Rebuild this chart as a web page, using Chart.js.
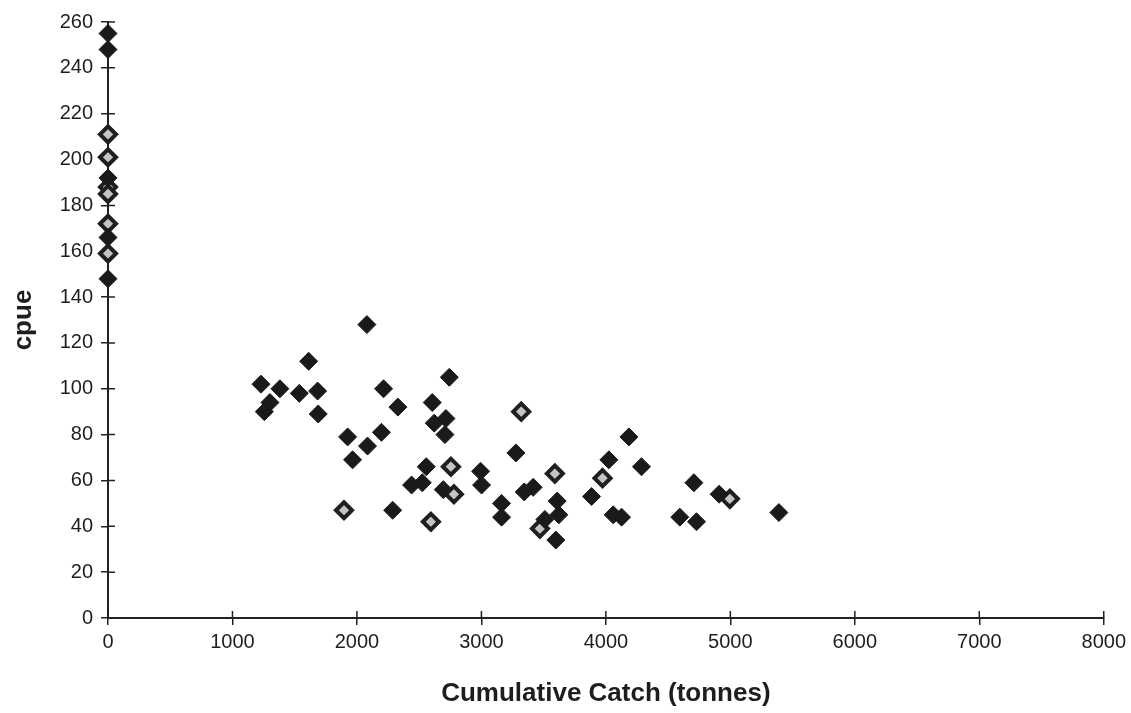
<!DOCTYPE html>
<html>
<head>
<meta charset="utf-8">
<title>cpue vs cumulative catch</title>
<script src="https://cdn.jsdelivr.net/npm/chart.js@4/dist/chart.umd.min.js"></script>
<style>
  body { margin: 0; background: #fff; }
  canvas { display: block; }
</style>
</head>
<body>
<canvas id="cpueChart" width="1131" height="713"></canvas>
<script>
let cpueChart = document.getElementById('cpueChart').getContext('2d');

//Data - cumulative catch (tonnes) and cpue
const solidCatch = [0, 0, 0, 0, 0,
  1229, 1381, 1537, 1612, 1684, 1301, 1256, 1689, 2080, 2214, 2329, 2742, 2605,
  2621, 2715, 2707, 1925, 2085, 2197, 1965, 2557, 2439, 2525, 2694, 2993, 3001,
  3277, 3344, 3416, 3162, 3162, 2287, 4185, 4024, 4286, 3609, 3622, 3510, 3598,
  3885, 4059, 4126, 4707, 4910, 4594, 4728, 5390];
const solidCpue = [255, 248, 192, 166, 148,
  102, 100, 98, 112, 99, 94, 90, 89, 128, 100, 92, 105, 94,
  85, 87, 80, 79, 75, 81, 69, 66, 58, 59, 56, 64, 58,
  72, 55, 57, 50, 44, 47, 79, 69, 66, 51, 45, 43, 34,
  53, 45, 44, 59, 54, 44, 42, 46];

const openCatch = [0, 0, 0, 0, 0, 0, 1896, 2594, 2755, 2779, 3320, 3590, 3973, 3470, 4996];
const openCpue = [211, 201, 188, 185, 172, 159, 47, 42, 66, 54, 90, 63, 61, 39, 52];

//Axis ticks
const xTicks = [0, 1000, 2000, 3000, 4000, 5000, 6000, 7000, 8000];
const yTicks = [0, 20, 40, 60, 80, 100, 120, 140, 160, 180, 200, 220, 240, 260];

const axisColor = '#222';
const textColor = '#1e1e1e';
const fontFamily = "'Liberation Sans', Arial, sans-serif";

function toPoints(xs, ys) {
  return xs.map((x, i) => ({x: x, y: ys[i]}));
}

//Ticks cross the axis line, so draw the inner half here
const crossTicks = {
  id: 'crossTicks',
  beforeDatasetsDraw(chart) {
    const {ctx, scales: {x, y}} = chart;
    ctx.save();
    ctx.strokeStyle = axisColor;
    ctx.lineWidth = 1.5;
    ctx.beginPath();
    y.ticks.forEach(t => {
      const py = y.getPixelForValue(t.value);
      ctx.moveTo(x.left, py);
      ctx.lineTo(x.left + 7, py);
    });
    x.ticks.forEach(t => {
      const px = x.getPixelForValue(t.value);
      ctx.moveTo(px, y.bottom);
      ctx.lineTo(px, y.bottom - 7);
    });
    ctx.stroke();
    ctx.restore();
  }
};

let scatter = new Chart(cpueChart, {
  type: 'scatter',
  data: {
    datasets: [{
      label: 'cpue',
      data: toPoints(solidCatch, solidCpue),
      pointStyle: 'rectRot',
      pointRadius: 9,
      pointBackgroundColor: '#1a1a1a',
      pointBorderColor: '#1a1a1a',
      pointBorderWidth: 1,
      clip: false
    }, {
      label: 'cpue (open)',
      data: toPoints(openCatch, openCpue),
      pointStyle: 'rectRot',
      pointRadius: 8,
      pointBackgroundColor: '#c4c4c4',
      pointBorderColor: '#1f1f1f',
      pointBorderWidth: 4,
      clip: false
    }]
  },
  options: {
    responsive: false,
    animation: false,
    events: [],
    layout: {
      padding: {top: 22, right: 27, bottom: 0, left: 0}
    },
    plugins: {
      legend: {display: false},
      tooltip: {enabled: false}
    },
    scales: {
      x: {
        type: 'linear',
        min: 0,
        max: 8000,
        afterBuildTicks: scale => { scale.ticks = xTicks.map(v => ({value: v})); },
        afterFit: scale => { scale.height = 95; },
        border: {display: true, color: axisColor, width: 2},
        grid: {drawOnChartArea: false, drawTicks: true, tickLength: 7, color: axisColor, lineWidth: 1.5},
        ticks: {
          color: textColor,
          padding: 5,
          maxRotation: 0,
          font: {family: fontFamily, size: 20},
          callback: value => String(value)
        },
        title: {
          display: true,
          text: 'Cumulative Catch (tonnes)',
          color: textColor,
          padding: {top: 0, bottom: 4},
          font: {family: fontFamily, size: 26, weight: 'bold'}
        }
      },
      y: {
        type: 'linear',
        min: 0,
        max: 260,
        afterBuildTicks: scale => { scale.ticks = yTicks.map(v => ({value: v})); },
        afterFit: scale => { scale.width = 108; },
        border: {display: true, color: axisColor, width: 2},
        grid: {drawOnChartArea: false, drawTicks: true, tickLength: 7, color: axisColor, lineWidth: 1.5},
        ticks: {
          color: textColor,
          padding: 8,
          font: {family: fontFamily, size: 20},
          callback: value => String(value)
        },
        title: {
          display: true,
          text: 'cpue',
          color: textColor,
          padding: {top: 8, bottom: 0},
          font: {family: fontFamily, size: 26, weight: 'bold'}
        }
      }
    }
  },
  plugins: [crossTicks]
});
</script>
</body>
</html>
